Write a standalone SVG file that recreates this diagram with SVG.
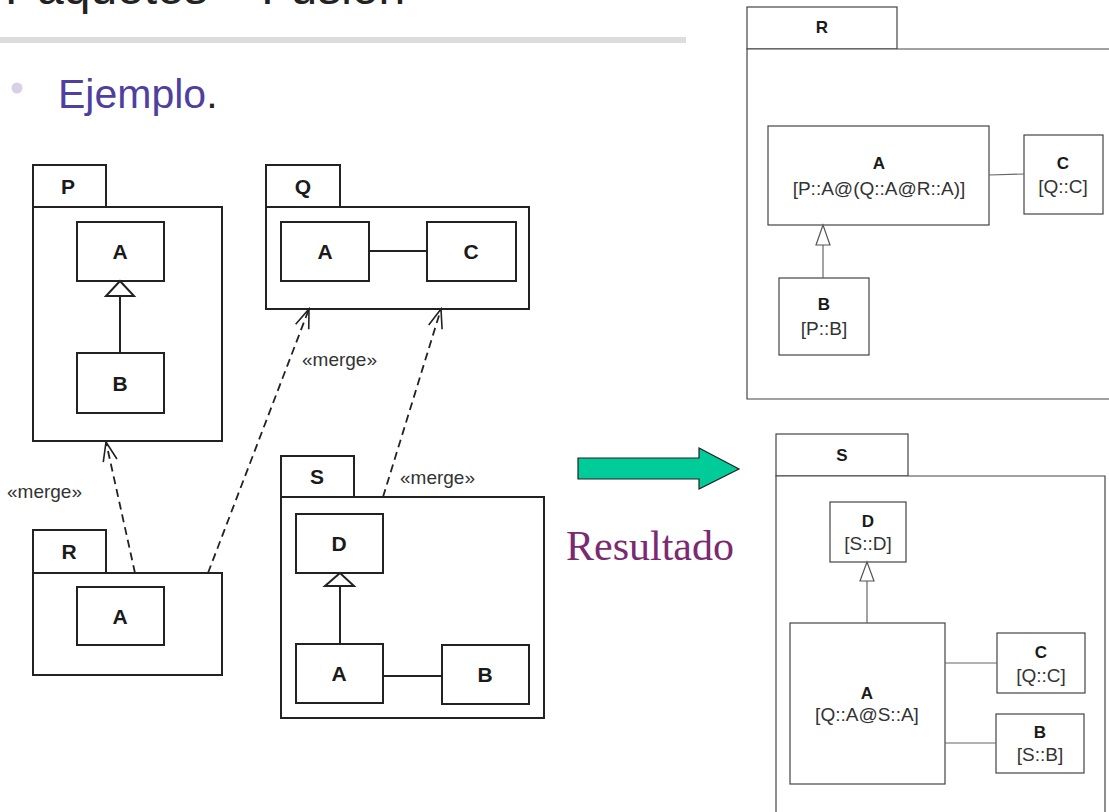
<svg xmlns="http://www.w3.org/2000/svg" width="1109" height="812" viewBox="0 0 1109 812">
<style>
.pk{fill:#fff;stroke:#222;stroke-width:2}
.cl{fill:#fff;stroke:#222;stroke-width:2}
.rk{fill:#fff;stroke:#444;stroke-width:1.2}
.ln{stroke:#222;stroke-width:2;fill:none}
.rl{stroke:#666;stroke-width:1.2;fill:none}
.dash{stroke:#222;stroke-width:1.8;fill:none;stroke-dasharray:8,5}
.big{font-family:"Liberation Sans",Arial,sans-serif;font-weight:bold;font-size:21px;fill:#1a1a1a;text-anchor:middle}
.mg{font-family:"Liberation Sans",Arial,sans-serif;font-size:19px;fill:#333}
.rb{font-family:"Liberation Sans",Arial,sans-serif;font-weight:bold;font-size:17px;fill:#1a1a1a;text-anchor:middle}
.rn{font-family:"Liberation Sans",Arial,sans-serif;font-size:19px;fill:#333;text-anchor:middle}
</style>
<defs>
<marker id="open" viewBox="-20 -9 22 18" refX="0" refY="0" markerWidth="22" markerHeight="18" markerUnits="userSpaceOnUse" orient="auto">
<path d="M-19,-7 L0,0 L-19,7" fill="none" stroke="#222" stroke-width="1.6"/>
</marker>
</defs>
<rect width="1109" height="812" fill="#fff"/>

<g id="header">
<text x="5" y="4" font-family="Liberation Sans,Arial,sans-serif" font-size="48" fill="#222">Paquetes – Fusión</text>
<rect x="0" y="37" width="686" height="6" fill="#dcdcdc"/>
<circle cx="17" cy="88" r="5.5" fill="#d8d0e6"/>
<text x="58" y="108" font-family="Liberation Sans,Arial,sans-serif" font-size="41" fill="#4f3f9f">Ejemplo<tspan fill="#222">.</tspan></text>
</g>

<g id="pkg-P">
<rect class="pk" x="33" y="165" width="73" height="42"/>
<rect class="pk" x="33" y="207" width="189" height="234"/>
<text class="big" x="68" y="194">P</text>
<g id="P-A"><rect class="cl" x="77" y="222" width="87" height="59"/><text class="big" x="120" y="259">A</text></g>
<g id="P-B"><rect class="cl" x="77" y="353" width="87" height="60"/><text class="big" x="120" y="391">B</text></g>
</g>

<g id="pkg-Q">
<rect class="pk" x="266" y="165" width="74" height="42"/>
<rect class="pk" x="266" y="207" width="263" height="102"/>
<text class="big" x="303" y="194">Q</text>
<g id="Q-A"><rect class="cl" x="281" y="222" width="88" height="59"/><text class="big" x="325" y="259">A</text></g>
<g id="Q-C"><rect class="cl" x="427" y="222" width="89" height="59"/><text class="big" x="471" y="259">C</text></g>
</g>

<g id="pkg-R">
<rect class="pk" x="33" y="530" width="73" height="43"/>
<rect class="pk" x="33" y="573" width="189" height="102"/>
<text class="big" x="69" y="559">R</text>
<g id="R-A"><rect class="cl" x="77" y="587" width="87" height="58"/><text class="big" x="120" y="624">A</text></g>
</g>

<g id="pkg-S">
<rect class="pk" x="281" y="456" width="73" height="41"/>
<rect class="pk" x="281" y="497" width="263" height="221"/>
<text class="big" x="317" y="484">S</text>
<g id="S-D"><rect class="cl" x="296" y="514" width="87" height="59"/><text class="big" x="339" y="551">D</text></g>
<g id="S-A"><rect class="cl" x="296" y="644" width="87" height="59"/><text class="big" x="339" y="681">A</text></g>
<g id="S-B"><rect class="cl" x="442" y="645" width="87" height="59"/><text class="big" x="485" y="682">B</text></g>
</g>

<g id="connectors-left">
<line class="ln" x1="120" y1="296" x2="120" y2="353"/>
<polygon points="120,281 106,296 134,296" fill="#fff" stroke="#222" stroke-width="2"/>
<line class="ln" x1="369" y1="251" x2="427" y2="251"/>
<line class="ln" x1="340" y1="586" x2="340" y2="644"/>
<polygon points="340,573 325,586 354,586" fill="#fff" stroke="#222" stroke-width="2"/>
<line class="ln" x1="383" y1="676" x2="442" y2="676"/>
<line class="dash" x1="135" y1="573" x2="106" y2="442" marker-end="url(#open)"/>
<line class="dash" x1="208" y1="573" x2="309" y2="309" marker-end="url(#open)"/>
<line class="dash" x1="383" y1="497" x2="441" y2="309" marker-end="url(#open)"/>
<text class="mg" x="7" y="498">«merge»</text>
<text class="mg" x="302" y="366">«merge»</text>
<text class="mg" x="400" y="484">«merge»</text>
</g>

<g id="result-arrow">
<polygon points="578,458 699,458 699,448 739,469 699,489 699,479 578,479" fill="#00cc99" stroke="#222" stroke-width="1.2"/>
<text x="566" y="560" font-family="Liberation Serif,Times New Roman,serif" font-size="42" fill="#7b2a70">Resultado</text>
</g>

<g id="res-R">
<rect class="rk" x="747" y="7" width="150" height="42"/>
<path class="rk" d="M1112,49 L747,49 L747,399 L1112,399" fill="#fff"/>
<text class="rb" x="822" y="33">R</text>
<g id="rR-A"><rect class="rk" x="768" y="126" width="221" height="99"/><text class="rb" x="879" y="169">A</text><text class="rn" x="879" y="195">[P::A@(Q::A@R::A)]</text></g>
<g id="rR-C"><rect class="rk" x="1024" y="135" width="79" height="79"/><text class="rb" x="1063" y="169">C</text><text class="rn" x="1063" y="193">[Q::C]</text></g>
<g id="rR-B"><rect class="rk" x="779" y="278" width="90" height="77"/><text class="rb" x="824" y="310">B</text><text class="rn" x="824" y="335">[P::B]</text></g>
</g>

<g id="res-S">
<rect class="rk" x="776" y="434" width="132" height="42"/>
<path class="rk" d="M776,815 L776,476 L1105,476 L1105,815"/>
<text class="rb" x="842" y="461">S</text>
<g id="rS-D"><rect class="rk" x="830" y="502" width="76" height="60"/><text class="rb" x="868" y="527">D</text><text class="rn" x="868" y="550">[S::D]</text></g>
<g id="rS-A"><rect class="rk" x="790" y="623" width="155" height="161"/><text class="rb" x="867" y="699">A</text><text class="rn" x="867" y="721">[Q::A@S::A]</text></g>
<g id="rS-C"><rect class="rk" x="997" y="633" width="88" height="60"/><text class="rb" x="1041" y="658">C</text><text class="rn" x="1041" y="682">[Q::C]</text></g>
<g id="rS-B"><rect class="rk" x="996" y="714" width="88" height="59"/><text class="rb" x="1040" y="738">B</text><text class="rn" x="1040" y="761">[S::B]</text></g>
</g>

<g id="connectors-right">
<line class="rl" x1="989" y1="175" x2="1024" y2="174"/>
<line class="rl" x1="823" y1="245" x2="823" y2="278"/>
<polygon points="823,225 816,245 830,245" fill="#fff" stroke="#555" stroke-width="1.2"/>
<line class="rl" x1="867" y1="581" x2="867" y2="623"/>
<polygon points="867,562 860,581 874,581" fill="#fff" stroke="#555" stroke-width="1.2"/>
<line class="rl" x1="945" y1="663" x2="997" y2="663"/>
<line class="rl" x1="945" y1="743" x2="996" y2="743"/>
</g>
</svg>
